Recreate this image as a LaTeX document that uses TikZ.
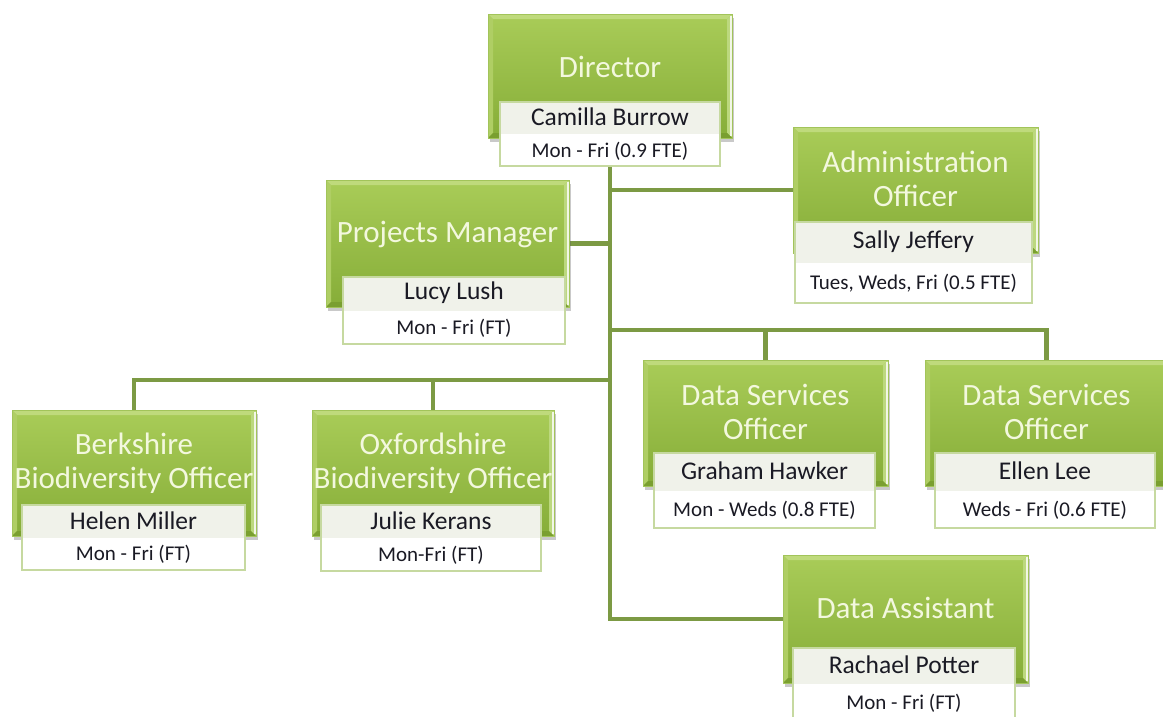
\documentclass[tikz,border=0pt]{standalone}
\usepackage{fontspec}
\setmainfont{Carlito}
\usetikzlibrary{shadows,backgrounds,calc}
\definecolor{gtop}{HTML}{A9CC58}
\definecolor{gbot}{HTML}{86AD38}
\definecolor{bevtop}{HTML}{BFDA7C}
\definecolor{bevleft}{HTML}{AFCE64}
\definecolor{bevright}{HTML}{BCD87E}
\definecolor{bevbot}{HTML}{7A9F30}
\definecolor{gedge}{HTML}{A2C45A}
\definecolor{titlecol}{HTML}{F3F8DE}
\definecolor{conncol}{HTML}{7C9A44}
\definecolor{wedge}{HTML}{C6D9A0}
\definecolor{namefill}{HTML}{F0F2EA}
\definecolor{txtcol}{HTML}{1A1A24}
\tikzset{
  gbox/.style={rectangle, inner sep=0pt, draw=gedge, line width=0.8pt,
    top color=gtop, bottom color=gbot,
    drop shadow={shadow xshift=2pt, shadow yshift=-4pt, opacity=0.35, fill=black!60},
    path picture={
      \fill[bevtop] (path picture bounding box.north west) -- (path picture bounding box.north east)
        -- ([xshift=-5pt,yshift=-5pt]path picture bounding box.north east)
        -- ([xshift=5pt,yshift=-5pt]path picture bounding box.north west) -- cycle;
      \fill[bevleft] (path picture bounding box.north west) -- (path picture bounding box.south west)
        -- ([xshift=5pt,yshift=5pt]path picture bounding box.south west)
        -- ([xshift=5pt,yshift=-5pt]path picture bounding box.north west) -- cycle;
      \fill[bevright] (path picture bounding box.north east) -- (path picture bounding box.south east)
        -- ([xshift=-5pt,yshift=5pt]path picture bounding box.south east)
        -- ([xshift=-5pt,yshift=-5pt]path picture bounding box.north east) -- cycle;
      \fill[bevbot] (path picture bounding box.south west) -- (path picture bounding box.south east)
        -- ([xshift=-5pt,yshift=5pt]path picture bounding box.south east)
        -- ([xshift=5pt,yshift=5pt]path picture bounding box.south west) -- cycle;
      \draw[white!85!gtop, line width=1.5pt] ([xshift=-1pt,yshift=-2pt]path picture bounding box.north east)
        -- ([xshift=-1pt,yshift=2pt]path picture bounding box.south east);
    }},
  titletext/.style={text=titlecol, align=center, inner sep=0pt, font=\fontsize{31}{34}\selectfont},
  wbox/.style={rectangle, inner sep=0pt, fill=white, draw=wedge, line width=1.2pt},
  nametext/.style={text=txtcol, inner sep=0pt, font=\fontsize{25.5}{28}\selectfont},
  schedtext/.style={text=txtcol, inner sep=0pt, font=\fontsize{21}{24}\selectfont},
  conn/.style={draw=conncol, line width=4.5pt}
}
\newcommand\greenbox[7]{%
  \pgfmathsetmacro\gcx{(#2+#4)/2}\pgfmathsetmacro\gcy{(#3+#5)/2}%
  \pgfmathsetmacro\gw{#4-#2}\pgfmathsetmacro\gh{#5-#3}%
  \node[gbox, minimum width=\gw pt, minimum height=\gh pt] (#1) at (\gcx,\gcy) {};
  \node[titletext] (#1t) at (\gcx,#6) {#7};}
\newcommand\whitebox[7]{%
  \pgfmathsetmacro\wcx{(#2+#4)/2}\pgfmathsetmacro\wmy{(#3+#5)/2}%
  \pgfmathsetmacro\ww{#4-#2}\pgfmathsetmacro\wh{#5-#3}%
  \pgfmathsetmacro\wny{(#3+\wmy)/2-1}\pgfmathsetmacro\wsy{(\wmy+#5)/2+1}%
  \node[wbox, minimum width=\ww pt, minimum height=\wh pt] (#1) at (\wcx,\wmy) {};
  \fill[namefill] (#2+1,#3+1) rectangle (#4-1,\wmy);
  \node[nametext] (#1n) at (\wcx,\wny) {#6};
  \node[schedtext] (#1s) at (\wcx,\wsy) {#7};}
\begin{document}
\begin{tikzpicture}[x=1pt,y=-1pt]
\useasboundingbox (0,0) rectangle (1163,716);
% boxes
\greenbox{dir}{488}{14}{732}{138}{67}{Director}
\whitebox{dirw}{500}{102}{720}{166}{Camilla Burrow}{Mon - Fri (0.9 FTE)}
\greenbox{pm}{326}{180}{569}{307}{234}{Projects Manager}
\whitebox{pmw}{343}{277}{565}{344}{Lucy Lush}{Mon - Fri (FT)}
\greenbox{adm}{793}{127}{1038}{253}{179}{Administration\\Officer}
\whitebox{admw}{795}{222}{1032}{303}{Sally Jeffery}{Tues, Weds, Fri (0.5 FTE)}
\greenbox{bk}{12}{410}{256}{536}{463}{Berkshire\\Biodiversity Officer}
\whitebox{bkw}{22}{505}{245}{570}{Helen Miller}{Mon - Fri (FT)}
\greenbox{ox}{312}{410}{554}{536}{463}{Oxfordshire\\Biodiversity Officer}
\whitebox{oxw}{321}{505}{541}{571}{Julie Kerans}{Mon-Fri (FT)}
\greenbox{dsa}{643}{360}{888}{486}{412}{Data Services\\Officer}
\whitebox{dsaw}{654}{453}{875}{528}{Graham Hawker}{Mon - Weds (0.8 FTE)}
\greenbox{dsb}{925}{360}{1168}{486}{412}{Data Services\\Officer}
\whitebox{dsbw}{935}{453}{1155}{528}{Ellen Lee}{Weds - Fri (0.6 FTE)}
\greenbox{da}{783}{555}{1028}{683}{608}{Data Assistant}
\whitebox{daw}{793}{648}{1015}{720}{Rachael Potter}{Mon - Fri (FT)}
% connectors
\coordinate (jds) at (610,330);
\coordinate (jco) at (610,380);
\begin{pgfonlayer}{background}
\fill[white] (0,0) rectangle (1163,716);
\draw[conn] (dirw.south) |- (da.west);
\draw[conn] (adm.west) -- (adm.west -| dirw.south);
\draw[conn] (pm.east) -- (pm.east -| dirw.south);
\draw[conn] (jds) -| (dsa.north);
\draw[conn] (jds) -| (dsb.north);
\draw[conn] (jco) -| (bk.north);
\draw[conn] (jco) -| (ox.north);
\end{pgfonlayer}
\end{tikzpicture}
\end{document}
